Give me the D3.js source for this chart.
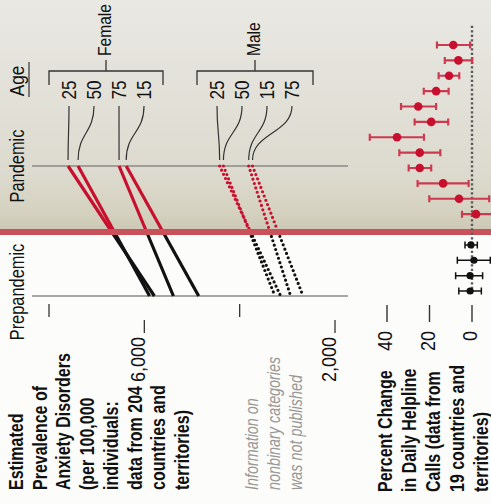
<!DOCTYPE html>
<html>
<head>
<meta charset="utf-8">
<script src="https://cdn.jsdelivr.net/npm/d3@7"></script>
<style>
  body { margin: 0; background: #fff; }
  svg { display: block; font-family: "Liberation Sans", Arial, sans-serif; }
</style>
</head>
<body>
<svg id="chart" width="491" height="504"></svg>
<script>
// anxiety prevalence per 100,000 (pandemic vs prepandemic)
const femaleAges = ["25", "50", "75", "15"]
const femalePandemic = [7600, 7390, 6530, 6380]
const femalePre = [5790, 5890, 5390, 4860]
const maleAges = ["25", "50", "15", "75"]
const malePandemic = [4420, 4340, 3810, 3730]
const malePre = [3140, 3260, 2930, 2670]
const prevTicks = [8000, 6000, 4000, 2000]
const prevTickLabels = ["", "6,000", "", "2,000"]

// percent change in daily helpline calls
const callsPandemic = [8.8, 6.4, 10.8, 16.9, 25.3, 19.2, 35.3, 24.6, 24.6, 13.6, 6.1, -1.9]
const callsPandemicLo = [0.9, -0.1, 6.0, 11.0, 16.9, 11.2, 22.6, 14.9, 19.2, 1.6, -8.1, -10]
const callsPandemicHi = [16.5, 12.8, 15.7, 22.7, 33.4, 27.0, 48.1, 34.2, 29.8, 25.6, 20.1, 4.7]
const callsPre = [0.5, -0.9, 0.9, 0.9]
const callsPreLo = [-2.5, -8.6, -5.0, -4.4]
const callsPreHi = [3.3, 6.9, 7.7, 6.2]
const callTicks = [40, 20, 0]

const titleLines = ["Estimated", "Prevalence of", "Anxiety Disorders", "(per 100,000", "individuals:", "data from 204", "countries and", "territories)"]
const noteLines = ["Information on", "nonbinary categories", "was not published"]
const callTitleLines = ["Percent Change", "in Daily Helpline", "Calls (data from", "19 countries and", "territories)"]

const width = 491
const height = 504
const svg = d3.select('#chart')

const red = '#c8102e'
const bandTop = 229, bandBottom = 235

const x = d3.scaleLinear().domain([2000, 8000]).range([335, 49])
const xCalls = d3.scaleLinear().domain([0, 40]).range([472, 387])
const yPhase = d3.scalePoint().domain(["Pandemic", "Prepandemic"]).range([166, 296])
const yRow = d3.scaleLinear().domain([0, 16]).range([45, 291])

// background
const defs = svg.append('defs')
const grad = defs.append('linearGradient').attr('id', 'bg').attr('x1', 0).attr('y1', 0).attr('x2', 0).attr('y2', 1)
grad.append('stop').attr('offset', '0%').attr('stop-color', '#e9e8e3')
grad.append('stop').attr('offset', '75%').attr('stop-color', '#dddbcf')
grad.append('stop').attr('offset', '92%').attr('stop-color', '#d5d2c1')
grad.append('stop').attr('offset', '100%').attr('stop-color', '#cdc9b6')

svg.append('rect').attr('x', 0).attr('y', 0).attr('width', width).attr('height', height).attr('fill', '#fcfcfb')
svg.append('rect').attr('x', 0).attr('y', 0).attr('width', width).attr('height', bandTop).attr('fill', 'url(#bg)')

// rotated, condensed text (reads bottom to top)
function vtext(g, tx, ty, str, anchor, sx) {
  return g.append('text')
    .attr('transform', `translate(${tx},${ty}) rotate(-90) scale(${sx || 0.82},1)`)
    .attr('text-anchor', anchor)
    .text(str)
}

// baselines
const base = svg.append('g')
yPhase.domain().forEach(p => {
  base.append('line')
    .attr('x1', 32).attr('x2', 348)
    .attr('y1', yPhase(p)).attr('y2', yPhase(p))
    .attr('stroke', '#8a8a86').attr('stroke-width', 1.3)
  vtext(base, 17, yPhase(p) - (p === "Prepandemic" ? 4 : 0), p, 'middle')
    .attr('dy', '0.35em')
    .attr('font-size', 20)
    .attr('fill', '#111')
})

// split each line at the band: red above, black below
function segs(pan, pre) {
  const y0 = yPhase("Pandemic"), y1 = yPhase("Prepandemic")
  const ym = (bandTop + bandBottom) / 2
  const t = (ym - y0) / (y1 - y0)
  const xm = d3.interpolateNumber(x(pan), x(pre))(t)
  return [
    { x1: x(pan), y1: y0, x2: xm, y2: ym, color: red },
    { x1: xm, y1: ym, x2: x(pre), y2: y1, color: '#111' }
  ]
}

const lineG = svg.append('g')
femalePandemic.forEach((v, i) => {
  segs(v, femalePre[i]).forEach(s => {
    lineG.append('line')
      .attr('x1', s.x1).attr('y1', s.y1).attr('x2', s.x2).attr('y2', s.y2)
      .attr('stroke', s.color).attr('stroke-width', 3.2)
  })
})
malePandemic.forEach((v, i) => {
  segs(v, malePre[i]).forEach(s => {
    lineG.append('line')
      .attr('x1', s.x1).attr('y1', s.y1).attr('x2', s.x2).attr('y2', s.y2)
      .attr('stroke', s.color).attr('stroke-width', 3.2)
      .attr('stroke-linecap', 'round')
      .attr('stroke-dasharray', '0,4.6')
  })
})

// red band
svg.append('rect').attr('x', 0).attr('y', bandTop).attr('width', width).attr('height', bandBottom - bandTop).attr('fill', '#c9525a')

// age labels, brackets and leaders
const link = d3.linkVertical().x(d => d[0]).y(d => d[1])
const groups = [
  { name: 'Female', ages: femaleAges, vals: femalePandemic, x0: 49, x1: 163 },
  { name: 'Male', ages: maleAges, vals: malePandemic, x0: 197, x1: 313 }
]
const lab = svg.append('g').attr('fill', '#111')
groups.forEach(gr => {
  const mid = (gr.x0 + gr.x1) / 2
  lab.append('path')
    .attr('d', `M${gr.x0},85V71H${gr.x1}V85M${mid},71V60`)
    .attr('fill', 'none').attr('stroke', '#333').attr('stroke-width', 1.3)
  vtext(lab, mid - 2, 56, gr.name, 'start').attr('dy', '0.35em').attr('font-size', 19)
  gr.ages.forEach((a, i) => {
    const lx = gr.x0 + 20 + i * 25
    vtext(lab, lx, 90, a, 'middle').attr('dy', '0.35em').attr('font-size', 21)
    lab.append('path')
      .attr('d', link({ source: [lx, 106], target: [x(gr.vals[i]), 160] }))
      .attr('fill', 'none').attr('stroke', '#333').attr('stroke-width', 1.2)
  })
})
vtext(lab, 17, 81, 'Age', 'middle').attr('dy', '0.35em').attr('font-size', 21)
lab.append('line').attr('x1', 29).attr('x2', 29).attr('y1', 62).attr('y2', 97).attr('stroke', '#333').attr('stroke-width', 1.2)

// prevalence axis
const axG = svg.append('g')
prevTicks.forEach((t, i) => {
  const labeled = prevTickLabels[i] !== ""
  axG.append('line')
    .attr('x1', x(t)).attr('x2', x(t))
    .attr('y1', labeled ? 320 : 304).attr('y2', labeled ? 333 : 317)
    .attr('stroke', '#333').attr('stroke-width', 1.3)
  if (labeled) {
    vtext(axG, x(t) - 6, 337, prevTickLabels[i], 'end', 0.9).attr('dy', '0.35em').attr('font-size', 20).attr('fill', '#111')
  }
})

// helpline calls
const callG = svg.append('g')
callG.append('line')
  .attr('x1', xCalls(0)).attr('x2', xCalls(0))
  .attr('y1', yRow(-1.25)).attr('y2', yRow(16.3))
  .attr('stroke', '#5a5a5a').attr('stroke-width', 2.4)
  .attr('stroke-dasharray', '2.2,2.3')

function errorRows(vals, lo, hi, offset, color, barColor, r, bw) {
  vals.forEach((v, i) => {
    const yy = yRow(i + offset)
    const a = xCalls(lo[i]), b = xCalls(hi[i])
    callG.append('path')
      .attr('d', `M${a},${yy}H${b}M${a},${yy - 3.5}V${yy + 3.5}M${b},${yy - 3.5}V${yy + 3.5}`)
      .attr('stroke', barColor).attr('stroke-width', bw).attr('fill', 'none')
    callG.append('circle').attr('cx', xCalls(v)).attr('cy', yy).attr('r', r).attr('fill', color)
  })
}
errorRows(callsPandemic, callsPandemicLo, callsPandemicHi, 0, red, '#cc3a50', 4.3, 2.2)
errorRows(callsPre, callsPreLo, callsPreHi, 13, '#111', '#111', 3.6, 1.5)

callTicks.forEach(t => {
  callG.append('line')
    .attr('x1', xCalls(t)).attr('x2', xCalls(t))
    .attr('y1', 305).attr('y2', 322)
    .attr('stroke', '#333').attr('stroke-width', 1.4)
  vtext(callG, xCalls(t) - 2, 331, t, 'end', 0.9).attr('dy', '0.35em').attr('font-size', 20).attr('fill', '#111')
})

// titles
const tG = svg.append('g').attr('font-weight', 'bold').attr('font-size', 19.5).attr('fill', '#111')
titleLines.forEach((s, i) => vtext(tG, 23 + i * 23.7, 490, s, 'start'))
callTitleLines.forEach((s, i) => vtext(tG, 392 + i * 24, 492, s, 'start'))

const nG = svg.append('g').attr('font-style', 'italic').attr('font-size', 17.5).attr('fill', '#979795')
noteLines.forEach((s, i) => vtext(nG, 258 + i * 22, 490, s, 'start'))
</script>
</body>
</html>
